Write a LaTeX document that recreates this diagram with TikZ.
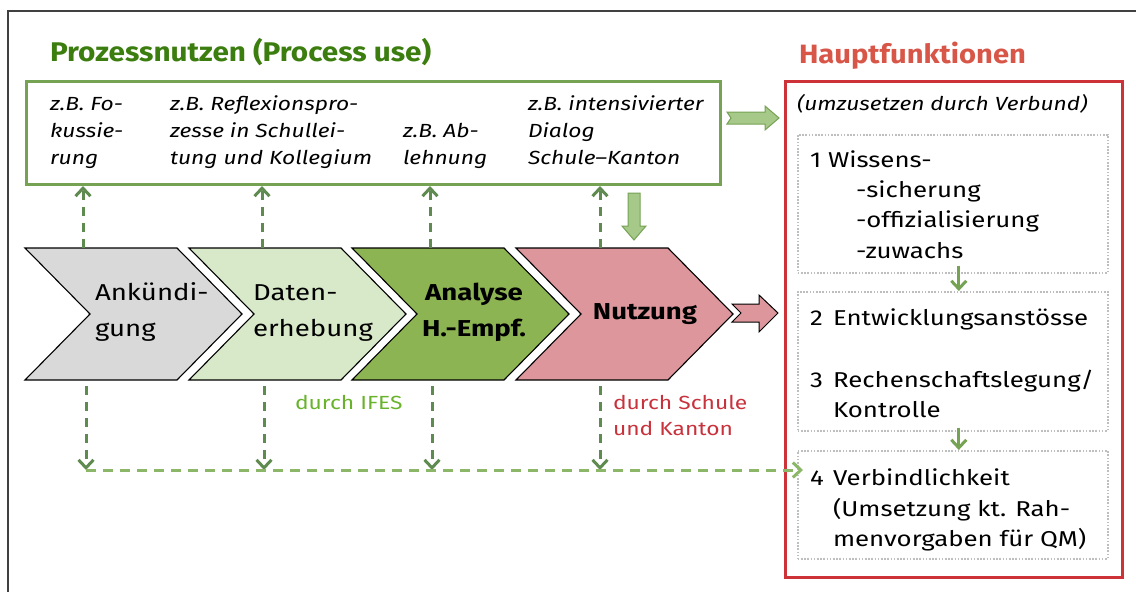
\documentclass[tikz,border=0pt]{standalone}
\usepackage{fontspec}
\setmainfont{Fira Sans}[FakeStretch=1.2]
\newfontfamily\titlefont{Fira Sans}[FakeStretch=1.1]
\usetikzlibrary{arrows.meta,calc}
\definecolor{framecol}{RGB}{64,64,64}
\definecolor{titlegreen}{RGB}{59,125,14}
\definecolor{boxgreen}{RGB}{118,162,84}
\definecolor{arrfill}{RGB}{166,201,138}
\definecolor{dashdark}{RGB}{95,138,80}
\definecolor{dashlight}{RGB}{140,182,104}
\definecolor{ifesgreen}{RGB}{104,178,44}
\definecolor{schulered}{RGB}{200,50,60}
\definecolor{boxred}{RGB}{205,50,56}
\definecolor{titlered}{RGB}{216,86,72}
\definecolor{dotgray}{RGB}{190,190,190}
\definecolor{chevgray}{RGB}{217,217,217}
\definecolor{chevlight}{RGB}{215,233,200}
\definecolor{chevmid}{RGB}{141,180,82}
\definecolor{chevpink}{RGB}{220,150,156}
\newcommand\fs[1]{\fontsize{#1}{#1}\selectfont}
\tikzset{
  x=1pt, y=-1pt,
  chevline/.style={draw=black, line width=1.1pt},
  txt/.style={anchor=base west, inner sep=0pt, outer sep=0pt},
  upd/.style={draw=dashdark, line width=3pt, dash pattern=on 9pt off 7pt, -{Straight Barb[length=8pt,width=15pt,line width=3pt]}},
  hline/.style={draw=dashlight, line width=3pt, dash pattern=on 10pt off 7pt, -{Straight Barb[length=8pt,width=15pt,line width=3pt]}},
  smallarr/.style={draw=boxgreen, line width=3pt, -{Straight Barb[length=8pt,width=15pt,line width=3pt]}},
  dotbox/.style={draw=dotgray, line width=1.6pt, dash pattern=on 1.6pt off 1.6pt, anchor=north west, inner sep=0pt},
  blockarr/.style={draw=boxgreen, line width=1pt, fill=arrfill},
}
\begin{document}
\begin{tikzpicture}
\useasboundingbox (0,0) rectangle (1136,592);
% outer frame
\draw[framecol, line width=1.4pt] (8,600) -- (8,11) -- (1140,11);

% titles
\node[txt, text=titlegreen] (t1) at (50,61) {\titlefont\fs{27}\bfseries Prozessnutzen (Process use)};
\node[txt, text=titlered] (t2) at (799,63) {\titlefont\fs{26.5}\bfseries Hauptfunktionen};

% process-use box
\node[draw=boxgreen, line width=3pt, anchor=north west, minimum width=694pt, minimum height=103pt, inner sep=0pt] (pbox) at (25,80) {};
\node[txt] (p1a) at (50,110) {\fs{19}\itshape z.B. Fo-};
\node[txt] (p1b) at (50,137) {\fs{19}\itshape kussie-};
\node[txt] (p1c) at (50,164) {\fs{19}\itshape rung};
\node[txt] (p2a) at (170,110) {\fs{19}\itshape z.B. Reflexionspro-};
\node[txt] (p2b) at (170,137) {\fs{19}\itshape zesse in Schullei-};
\node[txt] (p2c) at (170,164) {\fs{19}\itshape tung und Kollegium};
\node[txt] (p3a) at (403,137) {\fs{19}\itshape z.B. Ab-};
\node[txt] (p3b) at (403,164) {\fs{19}\itshape lehnung};
\node[txt] (p4a) at (528,110) {\fs{19}\itshape z.B. intensivierter};
\node[txt] (p4b) at (528,137) {\fs{19}\itshape Dialog};
\node[txt] (p4c) at (528,164) {\fs{19}\itshape Schule–Kanton};

% chevrons
\foreach \x/\c/\n in {25/chevgray/c1, 189/chevlight/c2, 352/chevmid/c3, 516/chevpink/c4}{
  \draw[chevline, fill=\c] (\x,248) -- ++(152,0) -- ++(65,66) -- ++(-65,66) -- ++(-152,0) -- ++(65,-66) -- cycle;
}
\node[txt] (k1a) at (95,300) {\fs{23}Ankündi-};
\node[txt] (k1b) at (95,336) {\fs{23}gung};
\node[txt] (k2a) at (253,300) {\fs{23}Daten-};
\node[txt] (k2b) at (253,336) {\fs{23}erhebung};
\node[anchor=base, inner sep=0pt] (k3a) at (474,300) {\fs{23}\bfseries Analyse};
\node[anchor=base, inner sep=0pt] (k3b) at (474,336) {\fs{23}\bfseries H.-Empf.};
\node[anchor=base, inner sep=0pt] (k4) at (645,319) {\fs{23}\bfseries Nutzung};

% labels below
\node[txt, text=ifesgreen] (l1) at (295,409) {\fs{19}durch IFES};
\node[txt, text=schulered] (l2a) at (613,409) {\fs{19}durch Schule};
\node[txt, text=schulered] (l2b) at (613,435) {\fs{19}und Kanton};

% pink block arrow
\draw[chevline, fill=chevpink, line width=1pt] (732,304) -- (759,304) -- (759,295) -- (778,313) -- (759,332) -- (759,322) -- (732,322) -- (741,313) -- cycle;

% green block arrows
\draw[blockarr] (727,112) -- (765,112) -- (765,106) -- (779,118) -- (765,130) -- (765,124) -- (727,124) -- (731,118) -- cycle;
\draw[blockarr] (628,193) -- (640,193) -- (640,226) -- (646,226) -- (634,240) -- (622,226) -- (628,226) -- cycle;

% main-function box
\node[draw=boxred, line width=2.6pt, anchor=north west, minimum width=337pt, minimum height=496pt, inner sep=0pt] (hbox) at (784,80) {};
\node[txt] (h0) at (797,110) {\fs{19}\itshape (umzusetzen durch Verbund)};
\node[dotbox, minimum width=310pt, minimum height=138pt] (b1) at (797,134) {};
\node[dotbox, minimum width=310pt, minimum height=139pt] (b2) at (797,291) {};
\node[dotbox, minimum width=310pt, minimum height=108pt] (b3) at (797,450) {};
\node[txt] (h1a) at (810,167) {\fs{21.5}1 Wissens-};
\node[txt] (h1b) at (856,197) {\fs{21.5}-sicherung};
\node[txt] (h1c) at (856,227) {\fs{21.5}-offizialisierung};
\node[txt] (h1d) at (856,258) {\fs{21.5}-zuwachs};
\node[txt] (n2) at (810,325) {\fs{21.5}2};
\node[txt] (h2) at (833,325) {\fs{21.5}Entwicklungsanstösse};
\node[txt] (n3) at (810,387) {\fs{21.5}3};
\node[txt] (h3a) at (833,387) {\fs{21.5}Rechenschaftslegung/};
\node[txt] (h3b) at (833,417) {\fs{21.5}Kontrolle};
\node[txt] (n4) at (810,485) {\fs{21.5}4};
\node[txt] (h4a) at (833,485) {\fs{21.5}Verbindlichkeit};
\node[txt] (h4b) at (833,516) {\fs{21.5}(Umsetzung kt. Rah-};
\node[txt] (h4c) at (833,546) {\fs{21.5}menvorgaben für QM)};

\draw[smallarr] ([xshift=6pt,yshift=8pt]b1.south) -- ([xshift=6pt]b2.north);
\draw[smallarr] ([xshift=6pt,yshift=4pt]b2.south) -- ([xshift=6pt]b3.north);

% dashed connectors
\coordinate (hl) at (86,470);
\foreach \xu/\xd in {83/86, 262/264, 430/432, 600/600}{
  \coordinate (ut) at (\xu,248);
  \draw[upd] (ut) -- (ut |- pbox.south);
  \coordinate (dt) at (\xd,386);
  \draw[upd] (dt) -- (dt |- hl);
}
\draw[hline] (hl) -- ([xshift=6pt]hl -| b3.west);
\end{tikzpicture}
\end{document}
